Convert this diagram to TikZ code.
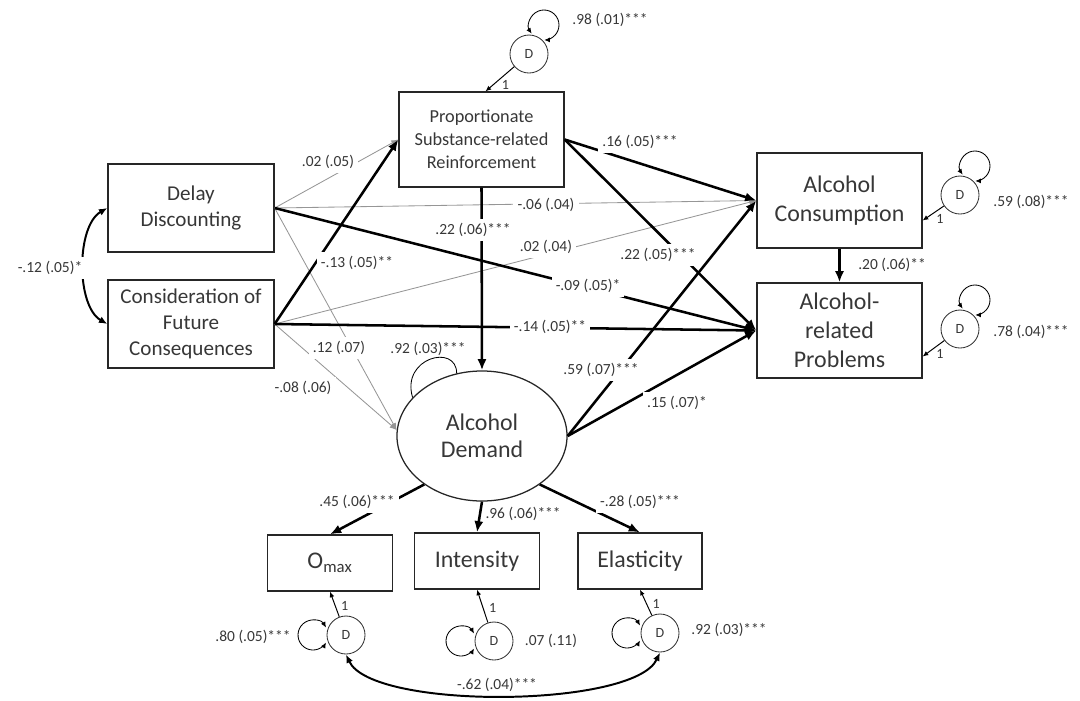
\documentclass[tikz,border=0pt]{standalone}
\usepackage{fontspec}
\setmainfont{Carlito}
\usepackage{tikz}
\usetikzlibrary{arrows.meta,shapes.geometric,calc}
\definecolor{pathGray}{RGB}{150,150,150}
\definecolor{textGray}{RGB}{55,55,55}

\begin{document}
\begin{tikzpicture}[x=0.025cm,y=0.025cm,
    box/.style={draw=black!85,line width=0.9pt,text=textGray,align=center,inner sep=0pt},
    dist/.style={draw=black!80,circle,line width=0.6pt,minimum size=0.95cm,inner sep=0pt,
                 text=textGray,font=\fontsize{10}{12}\selectfont},
    coef/.style={text=textGray,fill=white,inner sep=3pt,font=\fontsize{11}{13}\selectfont},
    free/.style={coef,fill=none},
    one/.style={text=textGray,inner sep=1pt,font=\fontsize{10}{12}\selectfont},
    strong/.style={-{Latex[length=8pt,width=6.5pt]},line width=1.8pt},
    weak/.style={-{Latex[length=5pt,width=4pt]},pathGray,line width=0.6pt},
    fix/.style={-{Latex[length=4pt,width=3.5pt]},line width=0.7pt},
    var/.style={{Latex[length=4pt,width=3.5pt]}-{Latex[length=4pt,width=3.5pt]},line width=0.6pt},
    cov/.style={{Latex[length=6pt,width=5pt]}-{Latex[length=6pt,width=5pt]},line width=1.4pt}]

  \useasboundingbox (0,0) rectangle (1080,-700);

  \node[box,minimum width=4.15cm,minimum height=2.2cm,font=\fontsize{15}{18.5}\selectfont]
    (dd) at (191,-208) {Delay\\Discounting};
  \node[box,minimum width=4.15cm,minimum height=2.2cm,font=\fontsize{15}{18.5}\selectfont]
    (cfc) at (191,-324) {Consideration of\\Future\\Consequences};
  \node[box,minimum width=4.125cm,minimum height=2.375cm,font=\fontsize{13}{16.2}\selectfont]
    (psr) at (481.5,-139.5) {Proportionate\\Substance-related\\Reinforcement};
  \node[box,minimum width=4.125cm,minimum height=2.375cm,font=\fontsize{17}{20.5}\selectfont]
    (ac) at (839.5,-200.5) {Alcohol\\Consumption};
  \node[box,minimum width=4.125cm,minimum height=2.375cm,font=\fontsize{17}{20.5}\selectfont]
    (arp) at (839.5,-330.5) {Alcohol-\\related\\Problems};
  \node[box,ellipse,minimum width=4.25cm,minimum height=3.25cm,font=\fontsize{17}{19.5}\selectfont]
    (ad) at (482,-436) {Alcohol\\Demand};
  \node[box,minimum width=3.125cm,minimum height=1.4cm,font=\fontsize{17}{20}\selectfont]
    (omax) at (330,-563) {O\textsubscript{max}};
  \node[box,minimum width=3.125cm,minimum height=1.4cm,font=\fontsize{17}{20}\selectfont]
    (intens) at (477,-561) {Intensity};
  \node[box,minimum width=3.1cm,minimum height=1.4cm,font=\fontsize{17}{20}\selectfont]
    (elast) at (640,-561) {Elasticity};

  \node[dist] (dpsr) at (529,-54) {D};
  \node[dist] (dac) at (960,-195) {D};
  \node[dist] (darp) at (960,-329) {D};
  \node[dist] (domax) at (346,-635) {D};
  \node[dist] (dint) at (494,-641) {D};
  \node[dist] (dela) at (660,-633) {D};

  \foreach \a/\b in {dd.east/psr.west, dd.east/ac.west, cfc.east/ac.west,
                     dd.east/ad.176, cfc.east/ad.176}
    \draw[weak] (\a) -- (\b);
  \foreach \a/\b in {cfc.east/psr.west, dd.east/arp.west, cfc.east/arp.west,
                     psr.east/ac.west, psr.east/arp.west, psr.south/ad.north,
                     ad.east/ac.west, ad.east/arp.west, ac.south/arp.north,
                     ad.220/omax.north, ad.south/intens.north, ad.-40/elast.north}
    \draw[strong] (\a) -- (\b);

  \draw[cov] (dd.west) to[out=210,in=150,looseness=0.8] (cfc.west);
  \draw[cov] (domax.south) to[out=-65,in=-115,looseness=0.5] (dela.south);
  \draw[line width=0.6pt] (ad.151) .. controls +(-12,40) and +(0,30) .. (ad.112);

  \draw[fix] (dpsr) -- ($(psr.north)+(4,0)$) node[one,pos=.5,below right] {1};
  \draw[fix] (dac) -- ($(ac.east)+(0,-20)$) node[one,pos=.45,below right] {1};
  \draw[fix] (darp) -- ($(arp.east)+(0,-26)$) node[one,pos=.45,below right] {1};
  \draw[fix] (domax) -- (omax.south) node[one,pos=.45,right=3pt] {1};
  \draw[fix] (dint) -- (intens.south) node[one,pos=.45,right=3pt] {1};
  \draw[fix] (dela) -- (elast.south) node[one,pos=.45,right=3pt] {1};

  \foreach \d in {dpsr,dac,darp}
    \draw[var] ($(\d)+(2.7,20.4)$) arc[start angle=215,end angle=-89,radius=15];
  \foreach \d in {domax,dint,dela}
    \draw[var] ($(\d)+(-20,7.5)$) arc[start angle=30,end angle=330,radius=15];

  \foreach \n/\x/\y/\t in {a/328/162/.02 (.05), b/546/205/-.06 (.04), c/546/247/.02 (.04),
                           d/339/348/.12 (.07), e/303/388/-.08 (.06), f/357/263/-.13 (.05)**,
                           g/588/286/-.09 (.05)*, h/550/327/-.14 (.05)**, i/640/142/.16 (.05)***,
                           j/658/255/.22 (.05)***, k/473/230/.22 (.06)***, l/601/370/.59 (.07)***,
                           m/677/403/.15 (.07)*, n/892/265/.20 (.06)**, o/357/502/.45 (.06)***,
                           p/640/502/-.28 (.05)***, q/50/268/-.12 (.05)*}
    \node[coef] (c\n) at (\x,-\y) {\t};
  \node[free,anchor=west] (cr) at (481,-514) {.96 (.06)***};

  \foreach \n/\x/\y/\t in {a/610/20/.98 (.01)***, b/1031/202/.59 (.08)***,
                           c/1031/332/.78 (.04)***, d/253/637/.80 (.05)***,
                           e/551/641/.07 (.11), f/729/630/.92 (.03)***,
                           g/497/685/-.62 (.04)***, h/428/349/.92 (.03)***}
    \node[free] (v\n) at (\x,-\y) {\t};
\end{tikzpicture}
\end{document}
